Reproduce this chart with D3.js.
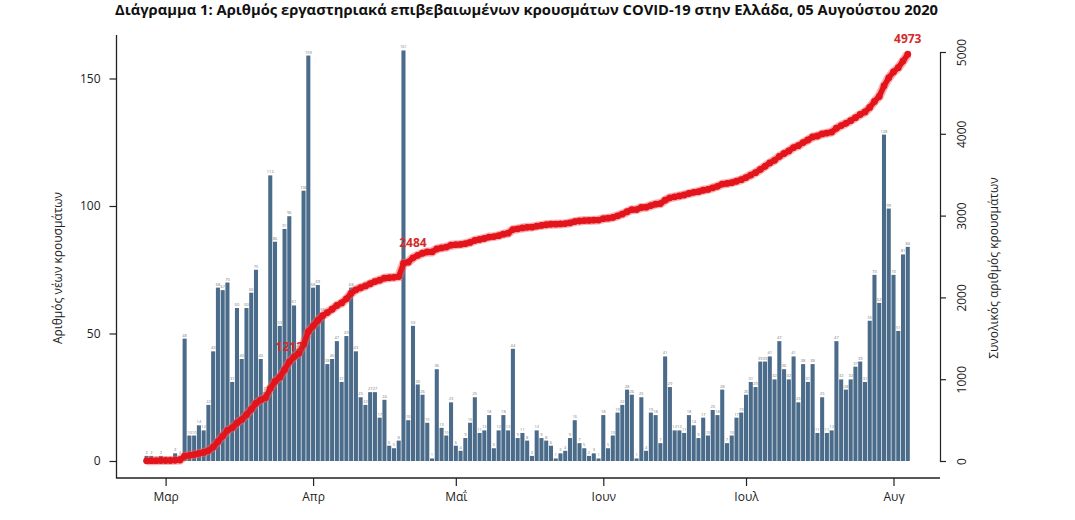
<!DOCTYPE html>
<html>
<head>
<meta charset="utf-8">
<title>COVID-19 Ελλάδα</title>
<script src="https://cdn.jsdelivr.net/npm/d3@7/dist/d3.min.js"></script>
<style>
  body { margin: 0; background: #fff; }
  text { font-family: "Open Sans", "DejaVu Sans", sans-serif; }
</style>
</head>
<body>
<script>
// ημερήσια νέα κρούσματα, από 26/2 έως 4/8
var firstDay = "2020-02-26";
var newCases = [
  2, 2, 0, 2, 0, 0, 3, 2, 48, 10,
  10, 14, 12, 22, 43, 68, 67, 70, 31, 60,
  40, 60, 66, 75, 40, 27, 112, 86, 53, 91,
  96, 61, 44, 106, 159, 68, 69, 58, 38, 40,
  47, 31, 49, 68, 43, 25, 22, 27, 27, 17,
  24, 6, 5, 8, 161, 16, 53, 30, 26, 15,
  1, 36, 13, 10, 23, 6, 4, 9, 15, 25,
  11, 12, 18, 5, 12, 18, 12, 44, 9, 11,
  8, 2, 12, 9, 8, 6, 1, 3, 4, 9,
  16, 7, 5, 2, 3, 1, 18, 5, 10, 19,
  22, 28, 26, 1, 25, 4, 19, 18, 7, 41,
  29, 12, 12, 11, 18, 14, 9, 17, 10, 20,
  18, 28, 7, 10, 17, 19, 26, 31, 29, 39,
  39, 41, 32, 47, 36, 32, 41, 23, 38, 31,
  38, 11, 25, 11, 12, 47, 32, 28, 32, 37,
  39, 31, 55, 73, 62, 128, 99, 73, 51, 81,
  84
];
var monthTicks = ["2020-03-01", "2020-04-01", "2020-05-01", "2020-06-01", "2020-07-01", "2020-08-01"];
var monthLabels = ["Μαρ", "Απρ", "Μαΐ", "Ιουν", "Ιουλ", "Αυγ"];
var leftTicks = [0, 50, 100, 150];
var rightTicks = [0, 1000, 2000, 3000, 4000, 5000];
var noteIdx = [30, 56, 160];
var noteText = ["1212", "2484", "4973"];

var svgWidth = 1075, svgHeight = 520;
var plot = {left: 116.5, right: 940, top: 35, bottom: 478};

var svg = d3.select("body").append("svg")
  .attr("width", svgWidth)
  .attr("height", svgHeight);

var parse = d3.utcParse("%Y-%m-%d");
var start = parse(firstDay);
var days = newCases.map(function(v, i) { return d3.utcDay.offset(start, i); });
var cum = Array.from(d3.cumsum(newCases));

var x = d3.scaleUtc()
  .domain([parse(monthTicks[0]), parse(monthTicks[5])])
  .range([165.6, 893.5]);
var yL = d3.scaleLinear().domain([0, 150]).range([461, 78.5]);
var yR = d3.scaleLinear().domain([0, 5000]).range([461, 52]);

var step = x(d3.utcDay.offset(start, 1)) - x(start);

// μπάρες
svg.append("g").selectAll("rect")
  .data(newCases)
  .enter().append("rect")
  .attr("x", function(d, i) { return x(days[i]) - step / 2 + 0.35; })
  .attr("width", step - 0.7)
  .attr("y", function(d) { return yL(d); })
  .attr("height", function(d) { return yL(0) - yL(d); })
  .attr("fill", "#4a6b8a");

// μικρές ετικέτες πάνω από κάθε μπάρα
svg.append("g").selectAll("text")
  .data(newCases)
  .enter().append("text")
  .attr("x", function(d, i) { return x(days[i]); })
  .attr("y", function(d) { return yL(d) - 2; })
  .attr("text-anchor", "middle")
  .attr("font-size", 4)
  .attr("fill", "#777")
  .text(function(d) { return d; });

// σωρευτική καμπύλη
var line = d3.line()
  .x(function(d, i) { return x(days[i]); })
  .y(function(d) { return yR(d); });

svg.append("path")
  .datum(cum)
  .attr("fill", "none")
  .attr("stroke", "#f26464")
  .attr("stroke-opacity", 0.5)
  .attr("stroke-width", 9)
  .attr("d", line);

svg.append("path")
  .datum(cum)
  .attr("fill", "none")
  .attr("stroke", "#e3141b")
  .attr("stroke-width", 5.5)
  .attr("d", line);

svg.append("g").selectAll("circle")
  .data(cum)
  .enter().append("circle")
  .attr("cx", function(d, i) { return x(days[i]); })
  .attr("cy", function(d) { return yR(d); })
  .attr("r", 3.4)
  .attr("fill", "#e3141b");

svg.append("g").selectAll("text")
  .data(noteIdx)
  .enter().append("text")
  .attr("x", function(d) { return x(days[d]); })
  .attr("y", function(d) { return yR(cum[d]) - 11; })
  .attr("text-anchor", "middle")
  .attr("font-size", 12)
  .attr("font-weight", "bold")
  .attr("fill", "#d42a2a")
  .text(function(d, i) { return noteText[i]; });

// πλαίσιο
svg.append("path")
  .attr("d", "M" + plot.left + "," + plot.top + "V" + plot.bottom + "H" + plot.right)
  .attr("fill", "none")
  .attr("stroke", "#222")
  .attr("stroke-width", 1.3);

// άξονες
var gL = svg.append("g")
  .attr("transform", "translate(" + plot.left + ",0)")
  .call(d3.axisLeft(yL).tickValues(leftTicks).tickSize(7).tickPadding(9));
gL.select(".domain").remove();

var gR = svg.append("g")
  .attr("transform", "translate(" + plot.right + ",0)")
  .call(d3.axisRight(yR).tickValues(rightTicks).tickFormat(d3.format("d"))
    .tickSize(6).tickSizeOuter(6));
gR.selectAll(".tick text")
  .attr("transform", "rotate(-90)")
  .attr("x", 0)
  .attr("y", 26)
  .attr("dy", 0)
  .attr("text-anchor", "middle");

var gX = svg.append("g")
  .attr("transform", "translate(0," + plot.bottom + ")")
  .call(d3.axisBottom(x)
    .tickValues(monthTicks.map(parse))
    .tickFormat(function(d, i) { return monthLabels[i]; })
    .tickSize(8).tickPadding(6));
gX.select(".domain").remove();

svg.selectAll(".tick text").attr("font-size", 12).attr("fill", "#222")
  .attr("font-family", "'Open Sans', sans-serif");
svg.selectAll(".tick line, .domain").attr("stroke", "#222").attr("stroke-width", 1.2);

// τίτλοι
svg.append("text")
  .attr("transform", "translate(62,268) rotate(-90)")
  .attr("text-anchor", "middle")
  .attr("font-size", 12)
  .attr("fill", "#222")
  .text("Αριθμός νέων κρουσμάτων");

svg.append("text")
  .attr("transform", "translate(998,268) rotate(-90)")
  .attr("text-anchor", "middle")
  .attr("font-size", 12)
  .attr("fill", "#222")
  .text("Συνολικός αριθμός κρουσμάτων");

svg.append("text")
  .attr("x", 115)
  .attr("y", 15)
  .attr("font-size", 14)
  .attr("font-weight", "bold")
  .attr("fill", "#111")
  .attr("textLength", 823)
  .attr("lengthAdjust", "spacingAndGlyphs")
  .text("Διάγραμμα 1: Αριθμός εργαστηριακά επιβεβαιωμένων κρουσμάτων COVID-19 στην Ελλάδα, 05 Αυγούστου 2020");
</script>
</body>
</html>
